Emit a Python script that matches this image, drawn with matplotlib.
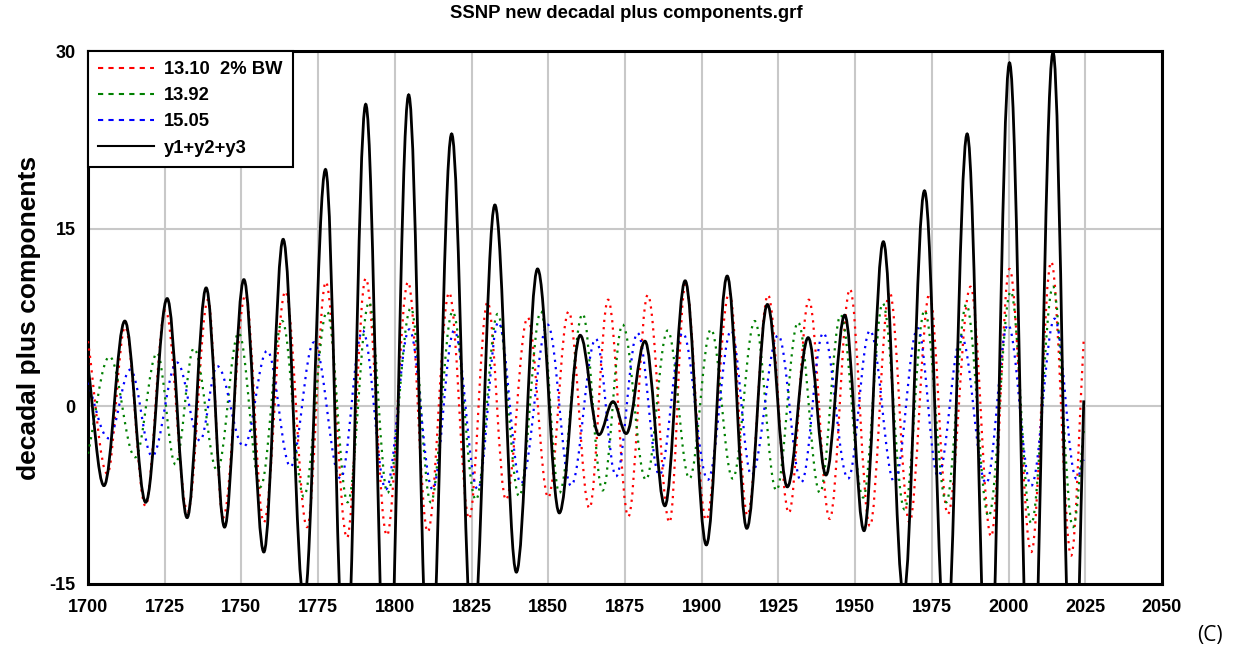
import matplotlib
matplotlib.use('Agg')
import matplotlib.pyplot as plt
from matplotlib.lines import Line2D
from matplotlib.path import Path
from matplotlib.patches import PathPatch

plt.rcParams['axes.unicode_minus'] = False

# turning points (year, value); troughs of the black
# curve that fall below the frame are estimated from where it leaves the axes
sum_years = [1700, 1705.2, 1712.0, 1718.8, 1725.8, 1732.3, 1738.5, 1744.5, 1750.8, 1757.3,
             1763.6, 1770.4, 1777.4, 1783.8, 1790.5, 1797.5, 1804.5, 1811.3, 1818.5, 1825.3,
             1832.6, 1839.6, 1846.5, 1853.6, 1860.4, 1866.5, 1871.1, 1875.4, 1881.5, 1888.0,
             1894.6, 1901.5, 1908.3, 1914.7, 1921.4, 1927.9, 1934.7, 1940.5, 1946.6, 1952.9,
             1959.2, 1965.8, 1972.6, 1979.6, 1986.5, 1993.5, 2000.3, 2007.3, 2014.5, 2021.0,
             2024.5]
sum_vals = [3.4, -6.7, 7.2, -8.1, 9.1, -9.4, 10.0, -10.2, 10.7, -12.3,
            14.1, -16.5, 20.0, -24.5, 25.5, -28.0, 26.3, -25.0, 23.0, -20.2,
            17.0, -14.0, 11.6, -9.0, 6.0, -2.4, 0.4, -2.3, 5.5, -8.4,
            10.6, -11.7, 11.0, -10.3, 8.6, -6.8, 5.8, -5.8, 7.7, -10.5,
            13.9, -16.0, 18.2, -21.0, 23.0, -27.0, 29.0, -29.0, 29.9, -30.0,
            0.5]

red_years = [1700, 1706.3, 1712.1, 1718.7, 1725.2, 1732.5, 1739.1, 1744.0, 1751.3, 1757.3,
             1764.3, 1771.4, 1777.5, 1784.4, 1790.5, 1797.4, 1804.3, 1810.7, 1817.7, 1824.2,
             1830.2, 1836.2, 1843.3, 1850.0, 1856.6, 1863.4, 1869.5, 1876.1, 1882.4, 1889.5,
             1894.7, 1901.4, 1909.0, 1914.9, 1921.6, 1928.4, 1934.9, 1941.7, 1948.3, 1954.8,
             1961.2, 1967.7, 1974.2, 1980.2, 1987.6, 1994.3, 2000.3, 2007.4, 2013.9, 2020.4,
             2024.5]
red_vals = [5.5, -5.7, 6.7, -8.4, 8.1, -8.9, 9.0, -9.4, 9.4, -9.8,
            9.7, -10.2, 10.5, -11.1, 10.8, -10.9, 10.5, -10.6, 9.6, -9.5,
            8.8, -7.9, 7.5, -7.7, 8.0, -8.6, 9.0, -9.3, 9.4, -9.8,
            10.3, -9.6, 9.6, -9.2, 9.4, -9.0, 9.0, -9.5, 9.9, -10.1,
            9.7, -9.8, 9.5, -9.1, 10.1, -11.0, 11.6, -12.3, 12.2, -12.6,
            5.7]

green_years = [1700, 1707.0, 1715.4, 1722.5, 1728.5, 1734.5, 1742.1, 1749.1, 1756.2, 1763.3,
               1770.3, 1777.9, 1784.6, 1791.6, 1797.6, 1805.2, 1811.7, 1818.8, 1826.4, 1833.5,
               1840.5, 1847.6, 1853.6, 1861.2, 1867.7, 1874.2, 1881.8, 1888.9, 1896.0, 1903.0,
               1910.1, 1917.3, 1924.3, 1931.4, 1938.5, 1945.3, 1952.6, 1959.0, 1966.1, 1972.6,
               1979.7, 1986.2, 1993.5, 2000.7, 2007.4, 2014.5, 2021.0, 2024.5]
green_vals = [-4.0, 4.2, -4.3, 4.5, -4.9, 4.9, -5.4, 6.2, -6.8, 7.2,
              -7.6, 8.0, -8.1, 8.8, -7.3, 8.3, -8.1, 8.0, -7.9, 7.8,
              -7.6, 8.0, -7.3, 7.8, -7.1, 6.9, -6.2, 6.4, -6.1, 6.5,
              -6.1, 7.2, -7.1, 7.1, -7.3, 7.7, -7.7, 8.7, -8.7, 8.1,
              -8.1, 8.6, -9.3, 9.7, -9.9, 10.1, -10.2, -2.0]

blue_years = [1700, 1706.7, 1713.8, 1720.9, 1729.0, 1736.5, 1742.1, 1750.8, 1758.4, 1766.0,
              1773.6, 1782.3, 1789.5, 1797.1, 1804.7, 1812.3, 1819.3, 1827.0, 1833.7, 1841.1,
              1849.8, 1857.4, 1865.5, 1872.1, 1879.1, 1886.2, 1893.8, 1902.0, 1909.6, 1916.2,
              1924.9, 1932.5, 1939.6, 1947.7, 1954.8, 1962.8, 1970.4, 1977.0, 1984.6, 1992.7,
              1999.8, 2007.4, 2015.0, 2022.1, 2024.5]
blue_vals = [2.0, -2.7, 3.1, -4.2, 3.7, -2.9, 3.4, -3.4, 4.7, -5.1,
             5.4, -6.1, 6.4, -7.0, 6.5, -7.0, 6.4, -7.0, 7.1, -6.5,
             6.9, -6.7, 5.7, -5.9, 6.2, -5.8, 6.2, -6.2, 6.4, -5.8,
             6.0, -6.4, 6.2, -6.1, 6.4, -6.4, 6.6, -5.9, 5.9, -6.5,
             6.9, -6.7, 7.4, -6.1, -4.5]

legend_labels = ['13.10  2% BW', '13.92', '15.05', 'y1+y2+y3']
x_ticks = list(range(1700, 2051, 25))
y_ticks = [-15, 0, 15, 30]

narrow = ['Liberation Sans Narrow', 'Liberation Sans', 'DejaVu Sans']
arial = ['Liberation Sans', 'DejaVu Sans']


def wave_path(xs, ys, k=0.364):
    # cubic segments between turning points, flat at each turning point,
    # so the curve looks like the smooth filtered series; open ends follow the chord
    verts = [(xs[0], ys[0])]
    codes = [Path.MOVETO]
    n = len(xs) - 1
    for i in range(n):
        x0, y0, x1, y1 = xs[i], ys[i], xs[i + 1], ys[i + 1]
        dx, dy = x1 - x0, y1 - y0
        c1 = (x0 + dx / 3, y0 + dy / 3) if i == 0 else (x0 + k * dx, y0)
        c2 = (x1 - dx / 3, y1 - dy / 3) if i == n - 1 else (x1 - k * dx, y1)
        verts += [c1, c2, (x1, y1)]
        codes += [Path.CURVE4] * 3
    return Path(verts, codes)


fig = plt.figure(figsize=(12.36, 6.55), dpi=100)
ax = fig.add_axes([88 / 1236, 1 - 584 / 655, (1162 - 88) / 1236, (584 - 51) / 655])

dot = (0, (1, 2.3))
for xs, ys, col in [(red_years, red_vals, '#ff0000'),
                    (green_years, green_vals, '#008000'),
                    (blue_years, blue_vals, '#0000ff')]:
    ax.add_patch(PathPatch(wave_path(xs, ys), fill=False, edgecolor=col,
                           lw=1.6, linestyle=dot, zorder=3))
ax.add_patch(PathPatch(wave_path(sum_years, sum_vals), fill=False, edgecolor='black',
                       lw=2.0, zorder=4))

ax.set_xlim(1700, 2050)
ax.set_ylim(-15, 30)
ax.set_xticks(x_ticks)
ax.set_yticks(y_ticks)
ax.grid(True, color='#c8c8c8', linewidth=1.5, zorder=0)
ax.set_axisbelow(True)
ax.tick_params(length=0)
ax.tick_params(axis='x', pad=11)
ax.tick_params(axis='y', pad=9)
for lab in ax.get_xticklabels() + ax.get_yticklabels():
    lab.set_family(narrow)
    lab.set_fontweight('bold')
    lab.set_fontsize(13)
for sp in ax.spines.values():
    sp.set_linewidth(2.2)

ax.set_ylabel('decadal plus components', fontsize=19, fontweight='bold', family=arial)
ax.yaxis.set_label_coords(-0.044, 0.5)

# legend handles drawn dashed, like the reference
handles = [Line2D([], [], color='#ff0000', lw=1.5, dashes=(2.5, 2.5)),
           Line2D([], [], color='#008000', lw=1.5, dashes=(2.5, 2.5)),
           Line2D([], [], color='#0000ff', lw=1.5, dashes=(2.5, 2.5)),
           Line2D([], [], color='black', lw=1.5)]
leg = ax.legend(handles, legend_labels, loc='upper left', borderaxespad=0,
                fancybox=False, framealpha=1, handlelength=3.05, handletextpad=0.55,
                labelspacing=0.5, borderpad=0.55,
                prop={'family': narrow, 'weight': 'bold', 'size': 13.2})
leg.get_frame().set_edgecolor('black')
leg.get_frame().set_linewidth(1.5)

fig.text(626 / 1236, 1 - 14 / 655, 'SSNP new decadal plus components.grf',
         ha='center', va='center', fontsize=13.3, fontweight='bold', family=arial)
fig.text(1210 / 1236, 1 - 636 / 655, '(C)', ha='center', va='center',
         fontsize=15, family=['Open Sans', 'DejaVu Sans'])

fig.savefig('out.png', dpi=100, facecolor='white')
